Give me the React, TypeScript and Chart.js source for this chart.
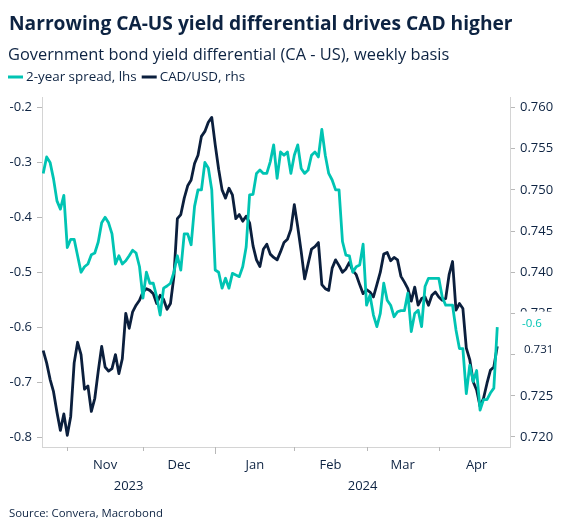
import React, { useEffect, useRef } from "react";
import { Chart, registerables } from "chart.js";

Chart.register(...registerables);

// ---- data -------------------------------------------------------------
// Daily (business-day) observations, starting Monday 23 Oct 2023.
const FIRST_DATE = "2023-10-23";

// Canada minus US 2-year government bond yield spread (percentage points)
const spread2y: number[] = [
  -0.32, -0.29, -0.30, -0.33, -0.37, -0.385, -0.36,
  -0.455, -0.44, -0.44, -0.47, -0.50, -0.49, -0.485, -0.468, -0.465, -0.445,
  -0.41, -0.40, -0.41, -0.43, -0.485, -0.47, -0.485, -0.479, -0.47, -0.46,
  -0.465, -0.49, -0.547, -0.50, -0.52, -0.52, -0.545, -0.578, -0.529, -0.525,
  -0.52, -0.50, -0.47, -0.496, -0.43, -0.43, -0.45, -0.38, -0.35, -0.35,
  -0.30, -0.31, -0.35, -0.496, -0.50, -0.529, -0.511, -0.529, -0.502, -0.505,
  -0.508, -0.49, -0.454, -0.359, -0.358, -0.32, -0.314, -0.32, -0.32, -0.299,
  -0.268, -0.329, -0.281, -0.287, -0.281, -0.32, -0.287, -0.268, -0.311, -0.32,
  -0.314, -0.287, -0.281, -0.29, -0.24, -0.287, -0.32, -0.332, -0.35, -0.35,
  -0.444, -0.469, -0.47, -0.50, -0.49, -0.487, -0.449, -0.56, -0.542, -0.578,
  -0.599, -0.575, -0.52, -0.551, -0.56, -0.581, -0.572, -0.57, -0.57, -0.538,
  -0.608, -0.575, -0.569, -0.599, -0.526, -0.511, -0.511, -0.511, -0.511, -0.545,
  -0.56, -0.56, -0.56, -0.605, -0.639, -0.639, -0.721, -0.669, -0.699, -0.679,
  -0.751, -0.732, -0.732, -0.72, -0.711, -0.60,
];

// CAD/USD exchange rate
const cadUsd: number[] = [
  0.7305, 0.7290, 0.7270, 0.7255, 0.7230, 0.7208, 0.7228,
  0.7202, 0.7225, 0.7290, 0.7315, 0.7300, 0.7258, 0.7262, 0.7231, 0.7247, 0.7280,
  0.7310, 0.7285, 0.7280, 0.7283, 0.7300, 0.7277, 0.7295, 0.7350, 0.7332, 0.7352,
  0.7360, 0.7366, 0.7376, 0.7380, 0.7378, 0.7374, 0.7362, 0.7372, 0.7367, 0.7355,
  0.7362, 0.7395, 0.7465, 0.7470, 0.7490, 0.7505, 0.7512, 0.7532, 0.7542, 0.7565,
  0.7571, 0.7582, 0.7588, 0.7555, 0.7525, 0.7500, 0.7490, 0.7502, 0.7494, 0.7465,
  0.7470, 0.7462, 0.7468, 0.7460, 0.7432, 0.7415, 0.7407, 0.7428, 0.7434, 0.7422,
  0.7418, 0.7415, 0.7425, 0.7436, 0.7440, 0.7452, 0.7482, 0.7455, 0.7425, 0.7392,
  0.7410, 0.7428, 0.7431, 0.7436, 0.7385, 0.7380, 0.7378, 0.7405, 0.7415, 0.7408,
  0.7400, 0.7404, 0.7412, 0.7402, 0.7397, 0.7385, 0.7374, 0.7379, 0.7376, 0.7370,
  0.7385, 0.7400, 0.7422, 0.7424, 0.7414, 0.7418, 0.7415, 0.7395, 0.7388, 0.7380,
  0.7365, 0.7382, 0.7360, 0.7368, 0.7370, 0.7360, 0.7372, 0.7376, 0.7370, 0.7366,
  0.7368, 0.7397, 0.7413, 0.7354, 0.7362, 0.7356, 0.7308, 0.7294, 0.7267, 0.7257,
  0.7237, 0.7247, 0.7265, 0.7281, 0.7285, 0.7310,
];

// Month boundaries on the time axis and their labels
const monthStarts = ["2023-11-01", "2023-12-01", "2024-01-01", "2024-02-01", "2024-03-01", "2024-04-01", "2024-05-01"];
const monthLabels = ["Nov", "Dec", "Jan", "Feb", "Mar", "Apr"];
const yearStarts = ["2024-01-01"];
const yearLabels = ["2023", "2024"];

// Axis ticks
const leftTicks = [-0.8, -0.7, -0.6, -0.5, -0.4, -0.3, -0.2];
const rightTicks = [0.72, 0.725, 0.73, 0.735, 0.74, 0.745, 0.75, 0.755, 0.76];

// Axis extents (x in business days from 1 Nov 2023)
const X_MIN = -7.35;
const X_MAX = 128.7;
const LEFT_MIN = -0.8182;
const LEFT_MAX = -0.1809;
const RIGHT_MIN = 0.718786;
const RIGHT_MAX = 0.761274;

const TITLE = "Narrowing CA-US yield differential drives CAD higher";
const SUBTITLE = "Government bond yield differential (CA - US), weekly basis";
const SOURCE = "Source: Convera, Macrobond";
const SERIES_NAMES = ["2-year spread, lhs", "CAD/USD, rhs"];

// ---- styling ----------------------------------------------------------
const TEAL = "#00c4b3";
const NAVY = "#0b1f3d";
const TEXT = "#0d2342";
const AXIS = "#d4d4d4";
const TICK = "#b8b8b8";
const FONT = "'Open Sans', 'Noto Sans', sans-serif";

// ---- business-day helpers --------------------------------------------
const DAY = 86400000;
const parseDate = (s: string) => {
  const [y, m, d] = s.split("-").map(Number);
  return Date.UTC(y, m - 1, d);
};
const ORIGIN = parseDate("2023-11-01");
const isWeekday = (t: number) => {
  const wd = new Date(t).getUTCDay();
  return wd !== 0 && wd !== 6;
};
function bizIndex(s: string): number {
  const t = parseDate(s);
  let n = 0;
  if (t >= ORIGIN) {
    for (let x = ORIGIN; x < t; x += DAY) if (isWeekday(x)) n++;
  } else {
    for (let x = t; x < ORIGIN; x += DAY) if (isWeekday(x)) n--;
  }
  return n;
}

const startIdx = bizIndex(FIRST_DATE);
const toPoints = (vals: number[]) => vals.map((v, i) => ({ x: startIdx + i, y: v }));

// ---- overlay plugin: titles, legend, time axis, last-value labels ----
const decorations = {
  id: "decorations",
  afterDraw(chart: any) {
    const { ctx, chartArea, scales } = chart;
    const xs = scales.x;
    ctx.save();

    // Title and subtitle
    ctx.fillStyle = TEXT;
    ctx.textAlign = "left";
    ctx.textBaseline = "alphabetic";
    ctx.font = `bold 19.2px ${FONT}`;
    ctx.fillText(TITLE, 9, 30);
    ctx.font = `16.4px ${FONT}`;
    ctx.fillText(SUBTITLE, 8, 60);

    // Legend
    ctx.font = `13.4px ${FONT}`;
    ctx.textBaseline = "middle";
    let lx = 8;
    const ly = 77;
    [TEAL, NAVY].forEach((c, i) => {
      ctx.fillStyle = c;
      ctx.fillRect(lx, ly - 1.5, 15, 3);
      lx += 18;
      ctx.fillStyle = TEXT;
      ctx.fillText(SERIES_NAMES[i], lx, ly);
      lx += ctx.measureText(SERIES_NAMES[i]).width + 5;
    });

    // Time axis ticks
    const bottom = chartArea.bottom;
    ctx.strokeStyle = TICK;
    ctx.lineWidth = 1;
    const yearIdx = yearStarts.map(bizIndex);
    monthStarts.forEach((d) => {
      const bi = bizIndex(d);
      if (bi < X_MIN || bi > X_MAX) return;
      const px = Math.round(xs.getPixelForValue(bi)) + 0.5;
      const len = yearIdx.includes(bi) ? 7 : 4;
      ctx.beginPath();
      ctx.moveTo(px, bottom);
      ctx.lineTo(px, bottom + len);
      ctx.stroke();
    });

    // Month labels, centred in each month
    ctx.fillStyle = TEXT;
    ctx.font = `13px ${FONT}`;
    ctx.textAlign = "center";
    ctx.textBaseline = "middle";
    monthLabels.forEach((lab, i) => {
      const a = bizIndex(monthStarts[i]);
      const b = bizIndex(monthStarts[i + 1]);
      ctx.fillText(lab, xs.getPixelForValue((a + b) / 2), 465);
    });

    // Year labels, centred in the visible part of each year
    const bounds = [X_MIN, ...yearIdx, X_MAX];
    yearLabels.forEach((lab, i) => {
      const a = Math.max(X_MIN, bounds[i]);
      const b = Math.min(X_MAX, bounds[i + 1]);
      ctx.fillText(lab, xs.getPixelForValue((a + b) / 2), 486);
    });

    // Source
    ctx.textAlign = "left";
    ctx.font = `11.4px ${FONT}`;
    ctx.fillText(SOURCE, 9, 514);

    // Last-value labels in the right margin
    const lastSpread = spread2y[spread2y.length - 1];
    const lastFx = cadUsd[cadUsd.length - 1];
    let y1 = scales.yL.getPixelForValue(lastSpread);
    let y2 = scales.yR.getPixelForValue(lastFx);
    const gap = 25.5;
    if (Math.abs(y2 - y1) < gap) {
      const mid = (y1 + y2) / 2;
      const sgn = y2 >= y1 ? 1 : -1;
      y1 = mid - (sgn * gap) / 2;
      y2 = mid + (sgn * gap) / 2;
    }
    const boxX = chartArea.right + 7;
    ctx.fillStyle = "#ffffff";
    ctx.fillRect(boxX, y1 - 12.5, chart.width - boxX, 25);
    ctx.fillRect(boxX, y2 - 12.5, chart.width - boxX, 25);
    ctx.font = `11.5px ${FONT}`;
    ctx.textBaseline = "middle";
    ctx.fillStyle = TEAL;
    ctx.fillText(lastSpread.toFixed(1), chartArea.right + 12, y1);
    ctx.fillStyle = NAVY;
    ctx.fillText(lastFx.toFixed(3), chartArea.right + 14, y2);

    ctx.restore();
  },
};

export default function App() {
  const canvasRef = useRef<HTMLCanvasElement>(null);

  useEffect(() => {
    if (!canvasRef.current) return;
    Chart.defaults.font.family = FONT;
    const tickFont = { size: 13, family: FONT };
    const chart = new Chart(canvasRef.current, {
      type: "line",
      data: {
        datasets: [
          {
            label: SERIES_NAMES[0],
            data: toPoints(spread2y),
            yAxisID: "yL",
            borderColor: TEAL,
            borderWidth: 2.8,
            pointRadius: 0,
            tension: 0,
            borderJoinStyle: "round",
          },
          {
            label: SERIES_NAMES[1],
            data: toPoints(cadUsd),
            yAxisID: "yR",
            borderColor: NAVY,
            borderWidth: 2.8,
            pointRadius: 0,
            tension: 0,
            borderJoinStyle: "round",
          },
        ],
      },
      options: {
        responsive: false,
        animation: false,
        devicePixelRatio: 1,
        layout: { padding: { top: 97, left: 0, right: 0, bottom: 0 } },
        plugins: { legend: { display: false }, tooltip: { enabled: false } },
        scales: {
          x: {
            type: "linear",
            min: X_MIN,
            max: X_MAX,
            ticks: { display: false },
            grid: { display: false },
            border: { display: true, color: AXIS },
            afterFit: (s: any) => {
              s.height = 82;
            },
          },
          yL: {
            type: "linear",
            position: "left",
            min: LEFT_MIN,
            max: LEFT_MAX,
            afterBuildTicks: (s: any) => {
              s.ticks = leftTicks.map((v) => ({ value: v }));
            },
            ticks: {
              callback: (v: any) => Number(v).toFixed(1),
              font: tickFont,
              color: TEXT,
              padding: 5,
            },
            grid: { drawOnChartArea: false, drawTicks: true, tickLength: 5, color: TICK },
            border: { display: true, color: AXIS },
            afterFit: (s: any) => {
              s.width = 42;
            },
          },
          yR: {
            type: "linear",
            position: "right",
            min: RIGHT_MIN,
            max: RIGHT_MAX,
            afterBuildTicks: (s: any) => {
              s.ticks = rightTicks.map((v) => ({ value: v }));
            },
            ticks: {
              callback: (v: any) => Number(v).toFixed(3),
              font: tickFont,
              color: TEXT,
              padding: 5,
            },
            grid: { drawOnChartArea: false, drawTicks: true, tickLength: 5, color: TICK },
            border: { display: true, color: AXIS },
            afterFit: (s: any) => {
              s.width = 56;
            },
          },
        },
      },
      plugins: [decorations],
    } as any);
    return () => chart.destroy();
  }, []);

  return (
    <div style={{ position: "fixed", left: 0, top: 0, width: 566, height: 529, background: "#fff" }}>
      <canvas ref={canvasRef} width={566} height={529} style={{ display: "block", width: 566, height: 529 }} />
    </div>
  );
}
